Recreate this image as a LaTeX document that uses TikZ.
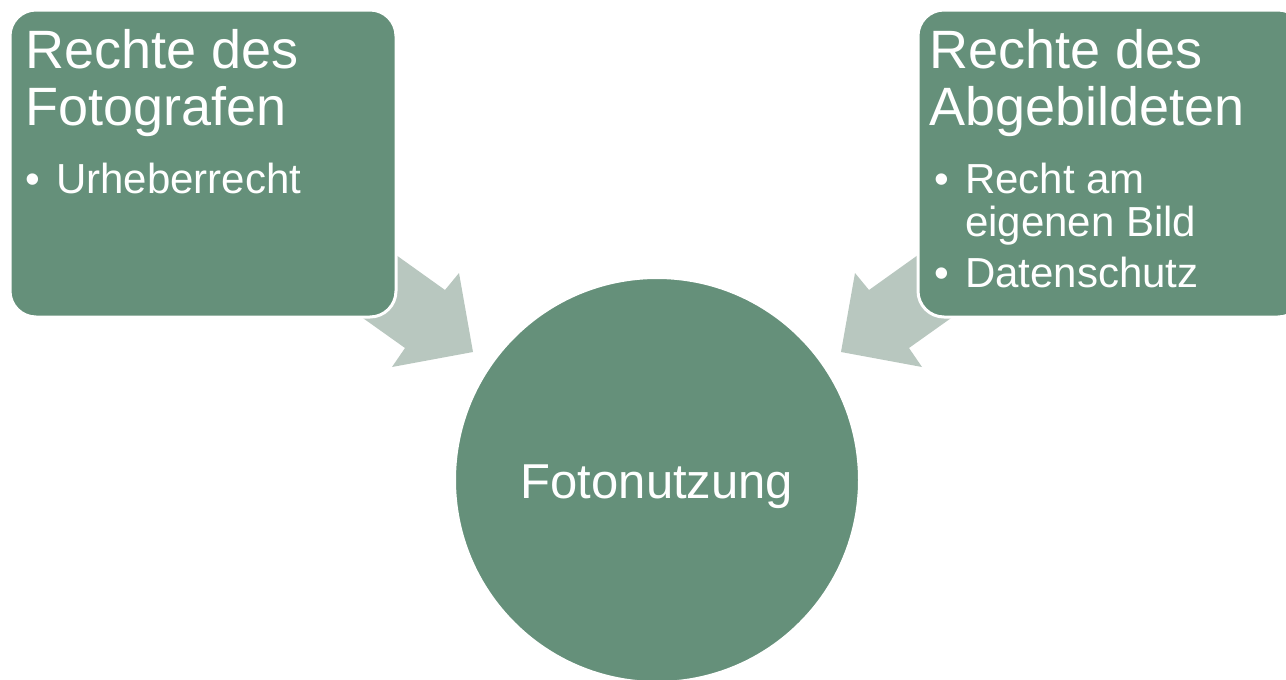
\documentclass[tikz,border=0pt]{standalone}
\usepackage{fontspec}
\setmainfont{Liberation Sans}
\definecolor{boxgreen}{RGB}{101,144,122}
\definecolor{arrowgrey}{RGB}{184,199,191}
\tikzset{
  panel/.style={fill=boxgreen, draw=white, line width=3pt, rounded corners=26pt, inner sep=0pt},
  hub/.style={circle, fill=boxgreen, draw=white, line width=2pt, inner sep=0pt},
  blockarrow/.style={fill=arrowgrey},
  titletext/.style={text=white, anchor=base west, inner sep=0pt, font=\fontsize{54}{60}\selectfont},
  itemtext/.style={text=white, anchor=base west, inner sep=0pt, font=\fontsize{42}{48}\selectfont},
  hubtext/.style={text=white, anchor=base, inner sep=0pt, font=\fontsize{49}{56}\selectfont}
}
\begin{document}
\begin{tikzpicture}[x=1pt,y=-1pt]
\useasboundingbox (0,0) rectangle (1286,680);
\clip (0,0) rectangle (1286,680);
% block arrows (behind the panels)
\fill[blockarrow] (340,215) -- (445,290) -- (459,273) -- (473,352) -- (392,367) -- (405,348) -- (308,279) -- cycle;
\fill[blockarrow] (974,215) -- (869,290) -- (855,273) -- (841,352) -- (922,367) -- (909,348) -- (1006,279) -- cycle;
% panels
\node[panel, minimum width=386pt, minimum height=307pt] (lbox) at (203,163.5) {};
\node[panel, minimum width=386pt, minimum height=307pt] (rbox) at (1111,163.5) {};
% hub
\node[hub, minimum size=404pt] (hub) at (657,480) {};
% left texts
\node[titletext] (lt1) at (25,68) {Rechte des};
\node[titletext] (lt2) at (25,125) {Fotografen};
\node[itemtext] (lb1) at (25.3,193) {•};
\node[itemtext] (li1) at (56,193) {Urheberrecht};
% right texts
\node[titletext] (rt1) at (929,68) {Rechte des};
\node[titletext] (rt2) at (929,125) {Abgebildeten};
\node[itemtext] (rb1) at (934.7,193) {•};
\node[itemtext] (ri1) at (965,193) {Recht am};
\node[itemtext] (ri2) at (965,236.5) {eigenen Bild};
\node[itemtext] (rb2) at (934.7,287) {•};
\node[itemtext] (ri3) at (965,287) {Datenschutz};
% hub text
\node[hubtext] (ht) at (657,498) {Fotonutzung};
\end{tikzpicture}
\end{document}
